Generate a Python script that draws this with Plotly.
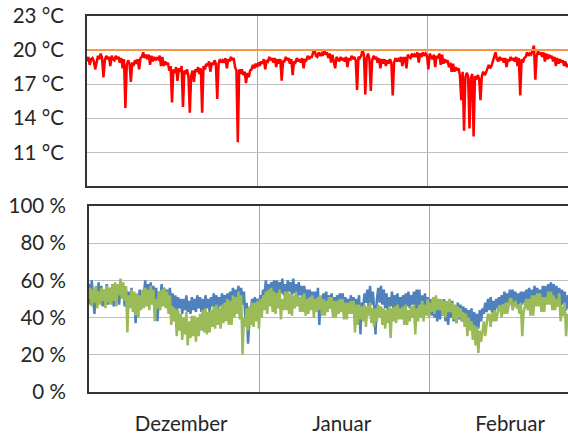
import pandas as pd
import plotly.graph_objects as go

# ---------------- data (4 samples per day, from 1 Dec) ----------------
start_date = "2012-12-01"
sample_freq = "6h"

temperature = [
    19.0, 19.4, 18.7, 19.2,  19.3, 19.0, 18.3, 18.8,  19.5, 19.2, 19.7, 19.3,
    17.6, 19.1, 19.5, 19.2,  19.4, 18.6, 19.5, 19.2,  19.1, 19.5, 19.2, 19.4,
    18.9, 19.3, 18.4, 19.2,  14.9, 18.7, 19.1, 18.8,  17.2, 18.9, 18.6, 19.1,
    18.8, 19.2, 18.3, 19.3,  19.4, 19.8, 19.3, 19.6,  19.2, 19.6, 18.7, 19.5,
    19.0, 19.4, 19.1, 19.3,  19.2, 19.5, 18.6, 19.4,  18.6, 19.0, 18.7, 18.9,
    18.2, 18.6, 15.4, 18.3,  18.0, 18.5, 17.3, 18.4,  18.1, 18.6, 15.0, 18.2,
    17.9, 18.3, 17.7, 14.5,  17.8, 18.2, 17.2, 18.3,  18.1, 18.5, 17.9, 18.4,
    14.5, 18.6, 18.3, 18.8,  18.6, 19.0, 18.1, 18.9,  18.7, 19.1, 18.8, 15.7,
    18.8, 19.2, 18.9, 19.1,  18.9, 19.3, 18.4, 19.2,  19.0, 19.4, 19.1, 19.3,
    18.5, 18.2, 11.9, 18.3,  17.9, 18.3, 17.8, 18.1,  17.1, 18.0, 17.6, 18.2,
    # Dec 31
    18.3, 18.7, 18.4, 18.8,  18.5, 18.9, 18.6, 19.0,  18.8, 19.2, 18.3, 19.1,
    19.0, 19.4, 19.1, 19.3,  18.9, 19.3, 18.5, 19.2,  18.8, 19.2, 17.3, 19.0,
    19.0, 19.4, 19.1, 19.3,  18.8, 19.2, 17.8, 19.0,  18.9, 19.3, 19.0, 19.2,
    18.9, 19.3, 18.4, 19.2,  19.1, 19.5, 19.2, 19.4,  19.4, 19.8, 20.0, 19.5,
    19.4, 19.8, 19.5, 19.7,  19.5, 20.0, 19.6, 19.8,  19.3, 19.7, 18.9, 19.6,
    19.1, 18.4, 19.4, 19.2,  19.0, 19.4, 19.1, 19.3,  19.0, 19.4, 18.5, 19.3,
    19.1, 19.5, 19.2, 19.4,  19.1, 16.5, 19.4, 19.3,  19.5, 20.0, 19.6, 16.1,
    19.3, 19.7, 19.2, 16.4,  19.1, 19.5, 19.2, 19.4,  18.9, 19.3, 18.4, 19.2,
    18.8, 19.2, 18.6, 19.1,  18.8, 19.2, 18.9, 16.0,  18.9, 19.3, 19.0, 19.2,
    19.0, 19.4, 18.6, 19.3,  19.3, 18.4, 19.6, 19.4,  19.3, 19.7, 19.4, 19.6,
    19.4, 19.8, 18.9, 19.7,  19.4, 19.8, 19.5, 19.7,
    # Feb 1
    19.5, 18.3, 19.7, 19.4,  19.2, 19.6, 18.5, 19.5,  19.3, 19.7, 18.7, 19.6,
    18.8, 19.2, 18.9, 19.1,  18.5, 18.9, 18.1, 18.8,  18.1, 18.5, 18.2, 18.4,
    17.8, 15.6, 18.1, 12.9,  17.6, 18.0, 17.7, 13.1,  17.5, 17.9, 12.4, 17.7,
    17.4, 17.8, 17.5, 15.6,  17.7, 18.1, 17.8, 18.0,  18.3, 18.7, 18.4, 18.6,
    19.0, 19.4, 19.8, 19.2,  19.0, 19.4, 19.1, 19.3,  18.9, 19.3, 18.5, 19.2,
    19.0, 19.4, 19.1, 19.3,  19.0, 19.4, 18.6, 19.3,  16.0, 19.2, 18.9, 19.3,
    19.4, 19.8, 19.5, 19.7,  19.6, 20.0, 20.4, 17.4,  19.5, 19.9, 19.6, 19.8,
    19.4, 19.8, 19.0, 19.7,  19.2, 19.6, 19.3, 19.5,  19.0, 19.4, 18.6, 19.3,
    18.8, 19.2, 18.9, 19.1,  18.6, 19.0, 18.5, 18.8,
]

setpoint_dates = ["2012-12-01", "2013-02-28"]
setpoint_temp = [20.0, 20.0]

humidity_blue = [
    58, 47, 60, 52,  42, 56, 49, 59,  50, 57, 46, 55,  49, 58, 47, 56,  50, 57, 46, 55,
    48, 56, 47, 58,  51, 57, 46, 55,  44, 54, 48, 56,  46, 53, 37, 52,  48, 55, 45, 54,
    52, 60, 49, 58,  50, 59, 48, 57,  49, 56, 38, 54,  50, 58, 48, 56,  47, 55, 48, 56,
    46, 53, 44, 52,  43, 51, 45, 50,  42, 50, 44, 52,  43, 49, 42, 51,  44, 50, 43, 52,
    45, 51, 43, 50,  44, 52, 45, 50,  43, 51, 46, 53,  45, 52, 44, 51,  46, 53, 45, 52,
    47, 53, 48, 54,  49, 56, 48, 55,  50, 57, 49, 56,  47, 54, 40, 48,  26, 38, 44, 50,
    # Dec 31
    45, 51, 44, 50,  46, 52, 48, 55,  52, 60, 53, 58,  51, 59, 54, 60,  52, 60, 53, 59,
    53, 61, 52, 58,  51, 60, 54, 59,  52, 61, 53, 58,  51, 59, 52, 57,  48, 57, 49, 55,
    46, 55, 47, 54,  45, 54, 46, 56,  36, 50, 45, 53,  46, 54, 44, 52,  45, 53, 43, 51,
    44, 52, 46, 53,  45, 53, 44, 51,  43, 50, 45, 52,  44, 51, 43, 50,  45, 52, 31, 48,
    46, 53, 48, 55,  45, 57, 47, 54,  46, 31, 50, 56,  48, 57, 47, 55,  45, 53, 44, 51,
    46, 54, 45, 52,  45, 53, 44, 51,  44, 52, 45, 53,  46, 54, 45, 52,  47, 54, 44, 55,
    44, 55, 42, 52,  41, 53, 43, 51,
    # Feb 1
    42, 50, 41, 49,  40, 50, 38, 48,  39, 49, 41, 50,  38, 48, 36, 47,  40, 49, 38, 46,
    37, 48, 39, 47,  38, 46, 40, 45,  35, 44, 38, 45,  33, 43, 31, 42,  34, 44, 38, 45,
    42, 48, 43, 50,  44, 51, 43, 49,  43, 50, 45, 51,  46, 52, 47, 54,  46, 53, 48, 55,
    47, 55, 48, 54,  46, 53, 47, 54,  47, 54, 48, 55,  48, 56, 47, 55,  49, 57, 48, 56,
    47, 55, 49, 57,  48, 57, 50, 58,  51, 59, 50, 58,  49, 57, 48, 56,  46, 55, 47, 54,
    44, 52, 45, 51,
]

humidity_green = [
    50, 56, 46, 55,  48, 57, 45, 54,  47, 56, 49, 55,  45, 57, 48, 56,  47, 58, 49, 59,
    46, 58, 52, 61,  50, 59, 49, 57,  32, 52, 45, 55,  43, 54, 41, 53,  40, 52, 44, 55,
    45, 56, 46, 55,  44, 57, 47, 55,  38, 50, 45, 54,  44, 55, 46, 56,  45, 54, 42, 52,
    36, 46, 38, 45,  30, 44, 33, 42,  28, 40, 31, 43,  25, 38, 29, 41,  30, 41, 27, 40,
    30, 42, 33, 44,  32, 45, 31, 43,  32, 44, 35, 46,  34, 47, 36, 45,  34, 47, 37, 48,
    38, 50, 36, 49,  36, 52, 40, 51,  42, 54, 39, 52,  20, 40, 35, 45,  33, 46, 36, 48,
    # Dec 31
    35, 48, 38, 49,  34, 50, 40, 52,  44, 54, 42, 55,  46, 56, 43, 54,  42, 53, 45, 55,
    39, 50, 44, 54,  44, 54, 42, 53,  41, 52, 45, 54,  46, 51, 43, 52,  43, 53, 41, 50,
    42, 51, 44, 52,  40, 50, 43, 51,  44, 52, 41, 50,  41, 49, 43, 51,  45, 51, 40, 49,
    40, 49, 42, 50,  43, 50, 39, 48,  39, 48, 42, 49,  42, 49, 32, 47,  36, 47, 39, 46,
    38, 47, 35, 46,  41, 48, 37, 45,  35, 45, 38, 47,  40, 46, 36, 45,  34, 44, 37, 46,
    29, 45, 38, 46,  37, 47, 39, 45,  39, 46, 36, 47,  36, 44, 38, 46,  40, 47, 31, 45,
    38, 47, 40, 49,  38, 47, 41, 50,
    # Feb 1
    40, 48, 43, 51,  42, 52, 44, 50,  44, 50, 41, 49,  40, 49, 43, 50,  43, 48, 39, 47,
    37, 46, 40, 45,  38, 43, 35, 42,  30, 40, 33, 38,  28, 36, 25, 35,  21, 33, 27, 34,
    38, 30, 36, 42,  41, 35, 43, 38,  44, 38, 42, 46,  46, 40, 47, 42,  48, 42, 46, 50,
    50, 44, 47, 49,  45, 47, 42, 48,  30, 43, 46, 50,  44, 50, 41, 52,  41, 52, 46, 53,
    46, 53, 43, 51,  43, 51, 47, 54,  47, 54, 44, 52,  44, 50, 46, 53,  38, 46, 41, 48,
    30, 42, 38, 46,
]

month_labels = ["Dezember", "Januar", "Februar"]
month_label_dates = ["2012-12-17 19:00", "2013-01-16 02:00", "2013-02-15 19:00"]
month_starts = ["2012-12-01", "2013-01-01", "2013-02-01"]

temp_ticks = [11, 14, 17, 20, 23]
temp_tick_text = ["11 °C", "14 °C", "17 °C", "20 °C", "23 °C"]
hum_ticks = [0, 20, 40, 60, 80, 100]
hum_tick_text = ["0 %", "20 %", "40 %", "60 %", "80 %", "100 %"]

# ---------------- figure ----------------
times_t = pd.date_range(start_date, periods=len(temperature), freq=sample_freq)
times_b = pd.date_range(start_date, periods=len(humidity_blue), freq=sample_freq)
times_g = pd.date_range(start_date, periods=len(humidity_green), freq=sample_freq)

FONT = "Lato, Carlito, Calibri, sans-serif"
FRAME = "#333333"
GRID = "#bfbfbf"
VGRID = "#a8a8a8"

fig = go.Figure()
fig.add_trace(go.Scatter(x=times_t, y=temperature, mode="lines",
                         line=dict(color="#ff0000", width=2.5), xaxis="x", yaxis="y",
                         showlegend=False))
fig.add_trace(go.Scatter(x=setpoint_dates, y=setpoint_temp, mode="lines",
                         line=dict(color="#f79646", width=2), xaxis="x", yaxis="y",
                         showlegend=False))
fig.add_trace(go.Scatter(x=times_b, y=humidity_blue, mode="lines",
                         line=dict(color="#4f81bd", width=2.5), xaxis="x2", yaxis="y2",
                         showlegend=False))
fig.add_trace(go.Scatter(x=times_g, y=humidity_green, mode="lines",
                         line=dict(color="#9bbb59", width=2.5), xaxis="x2", yaxis="y2",
                         showlegend=False))

W, H = 568, 435
ml, mr, mt, mb = 87, 0, 16, 33
pw = W - ml - mr
ph = H - mt - mb
px_per_day = 170 / 31.0
end_top = pd.Timestamp(start_date) + pd.Timedelta(days=pw / px_per_day)
end_bot = pd.Timestamp(start_date) + pd.Timedelta(days=(pw - 2) / px_per_day)

fig.update_layout(
    width=W, height=H,
    margin=dict(l=ml, r=mr, t=mt, b=mb, pad=0),
    paper_bgcolor="white", plot_bgcolor="white",
    font=dict(family=FONT, size=20.5, color="#262626"),
    xaxis=dict(domain=[0, 1], anchor="y", type="date",
               range=[start_date, end_top],
               tickmode="array", tickvals=month_starts, showticklabels=False,
               ticks="", showgrid=True, gridcolor=VGRID, gridwidth=1,
               showline=True, linecolor=FRAME, linewidth=2, mirror=True,
               zeroline=False),
    yaxis=dict(domain=[(ph - 175) / ph, 1], anchor="x",
               range=[8, 23], tickmode="array", tickvals=temp_ticks,
               ticktext=temp_tick_text, ticks="", ticklabelstandoff=17,
               showgrid=True, gridcolor=GRID, gridwidth=1,
               showline=True, linecolor=FRAME, linewidth=2, mirror=False,
               zeroline=False),
    xaxis2=dict(domain=[2 / pw, 1], anchor="y2", type="date",
                range=[start_date, end_bot],
                tickmode="array", tickvals=month_label_dates, ticktext=month_labels,
                ticks="", showgrid=False, ticklabelstandoff=12,
                minor=dict(tickmode="array", tickvals=month_starts, showgrid=True,
                           gridcolor=VGRID, gridwidth=1, ticks=""),
                showline=True, linecolor=FRAME, linewidth=2, mirror=True,
                zeroline=False),
    yaxis2=dict(domain=[0, 191 / ph], anchor="x2",
                range=[0, 100], tickmode="array", tickvals=hum_ticks,
                ticktext=hum_tick_text, ticks="", ticklabelstandoff=17,
                showgrid=True, gridcolor=GRID, gridwidth=1,
                showline=True, linecolor=FRAME, linewidth=2, mirror=False,
                zeroline=False),
)

fig.write_html("out.html")
